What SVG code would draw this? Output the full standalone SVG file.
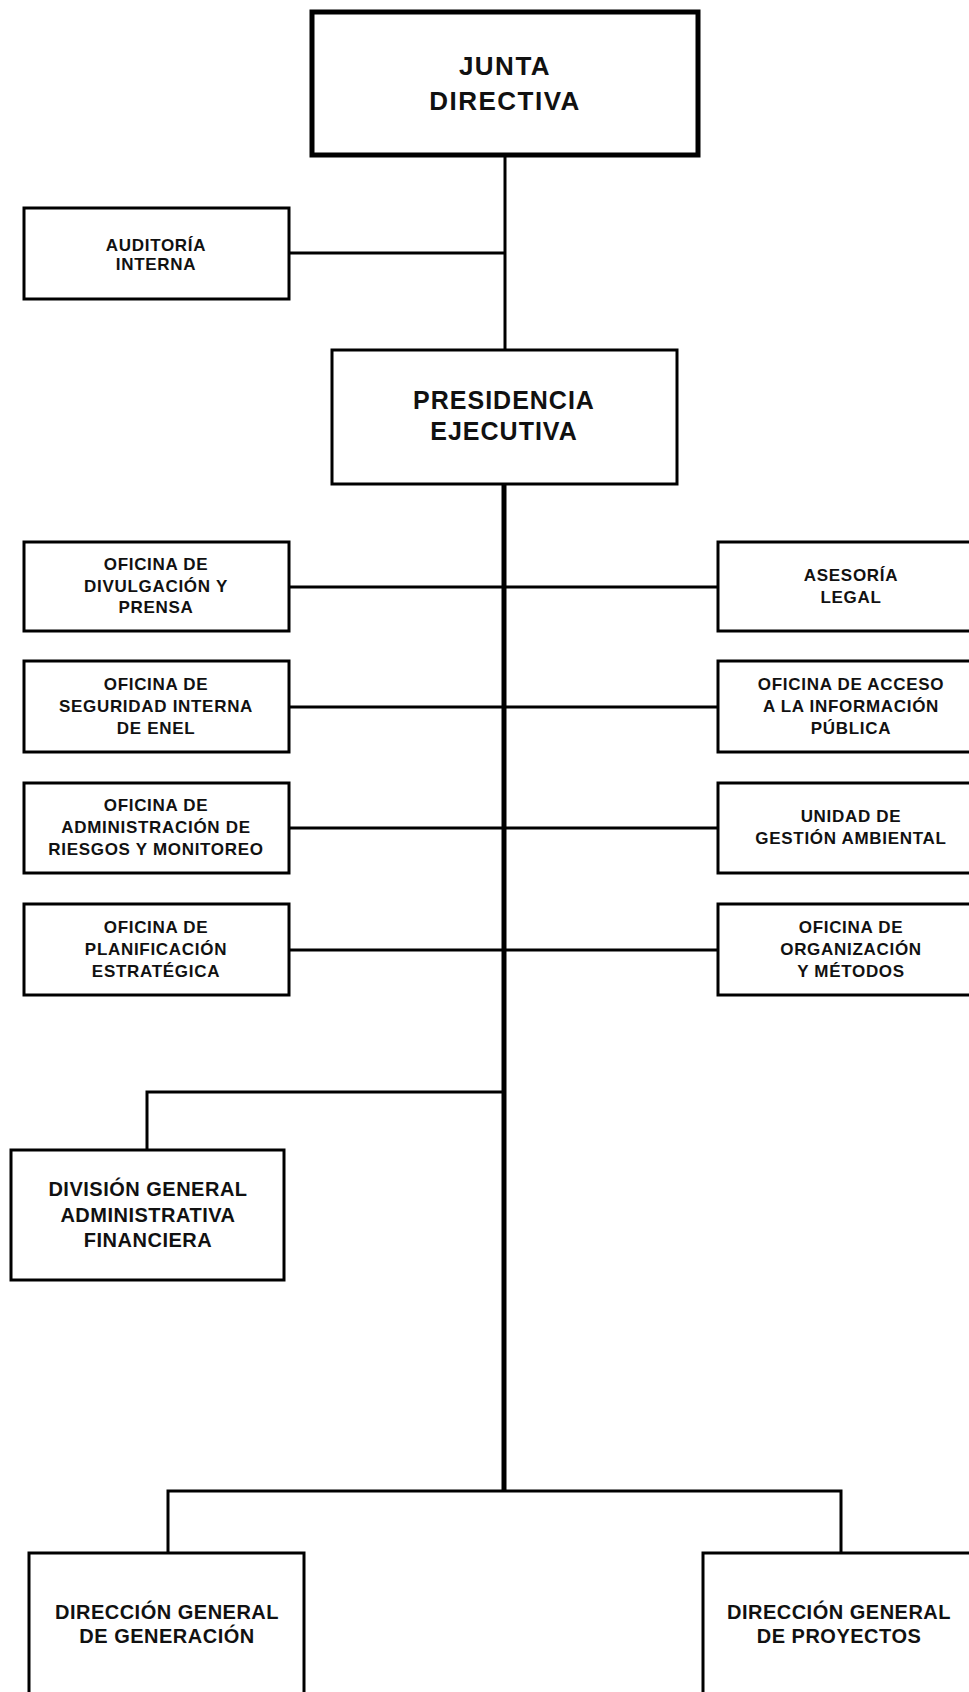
<svg xmlns="http://www.w3.org/2000/svg" width="969" height="1692" viewBox="0 0 969 1692">
<style>
.box{fill:#fff;stroke:#000;stroke-width:3}
.thick{fill:#fff;stroke:#000;stroke-width:5}
.ln{fill:none;stroke:#000;stroke-width:3}
.trunk{fill:none;stroke:#000;stroke-width:5}
text{font-family:"Liberation Sans",Arial,sans-serif;font-weight:bold;fill:#111;text-anchor:middle}
.t25{font-size:25px;letter-spacing:1.5px}
.t17{font-size:17px;letter-spacing:0.7px}
.t20{font-size:20px;letter-spacing:0.5px}
</style>
<rect width="969" height="1692" fill="#fff"/>
<g id="connectors">
<line class="ln" x1="505" y1="155" x2="505" y2="350"/>
<line class="ln" x1="289" y1="253" x2="505" y2="253"/>
<line class="trunk" x1="504" y1="484" x2="504" y2="1492"/>
<line class="ln" x1="289" y1="587" x2="718" y2="587"/>
<line class="ln" x1="289" y1="707" x2="718" y2="707"/>
<line class="ln" x1="289" y1="828" x2="718" y2="828"/>
<line class="ln" x1="289" y1="950" x2="718" y2="950"/>
<polyline class="ln" points="504,1092 147,1092 147,1150"/>
<polyline class="ln" points="168,1553 168,1491 841,1491 841,1553"/>
</g>
<g id="junta">
<rect class="thick" x="312" y="12" width="386" height="143"/>
<text class="t25" x="505" y="75" style="font-size:26px">JUNTA</text>
<text class="t25" x="505" y="110" style="font-size:26px">DIRECTIVA</text>
</g>
<g id="auditoria">
<rect class="box" x="24" y="208" width="265" height="91"/>
<text class="t17" x="156" y="251">AUDITORÍA</text>
<text class="t17" x="156" y="270">INTERNA</text>
</g>
<g id="presidencia">
<rect class="box" x="332" y="350" width="345" height="134"/>
<text class="t25" x="504" y="409" style="letter-spacing:1px">PRESIDENCIA</text>
<text class="t25" x="504" y="440" style="letter-spacing:1px">EJECUTIVA</text>
</g>
<g id="divulgacion">
<rect class="box" x="24" y="542" width="265" height="89"/>
<text class="t17" x="156" y="570">OFICINA DE</text>
<text class="t17" x="156" y="592">DIVULGACIÓN Y</text>
<text class="t17" x="156" y="613">PRENSA</text>
</g>
<g id="seguridad">
<rect class="box" x="24" y="661" width="265" height="91"/>
<text class="t17" x="156" y="690">OFICINA DE</text>
<text class="t17" x="156" y="712">SEGURIDAD INTERNA</text>
<text class="t17" x="156" y="734">DE ENEL</text>
</g>
<g id="riesgos">
<rect class="box" x="24" y="783" width="265" height="90"/>
<text class="t17" x="156" y="811">OFICINA DE</text>
<text class="t17" x="156" y="833">ADMINISTRACIÓN DE</text>
<text class="t17" x="156" y="855">RIESGOS Y MONITOREO</text>
</g>
<g id="planificacion">
<rect class="box" x="24" y="904" width="265" height="91"/>
<text class="t17" x="156" y="933">OFICINA DE</text>
<text class="t17" x="156" y="955">PLANIFICACIÓN</text>
<text class="t17" x="156" y="977">ESTRATÉGICA</text>
</g>
<g id="asesoria">
<rect class="box" x="718" y="542" width="265" height="89"/>
<text class="t17" x="851" y="581">ASESORÍA</text>
<text class="t17" x="851" y="603">LEGAL</text>
</g>
<g id="acceso">
<rect class="box" x="718" y="661" width="265" height="91"/>
<text class="t17" x="851" y="690">OFICINA DE ACCESO</text>
<text class="t17" x="851" y="712">A LA INFORMACIÓN</text>
<text class="t17" x="851" y="734">PÚBLICA</text>
</g>
<g id="ambiental">
<rect class="box" x="718" y="783" width="265" height="90"/>
<text class="t17" x="851" y="822">UNIDAD DE</text>
<text class="t17" x="851" y="844">GESTIÓN AMBIENTAL</text>
</g>
<g id="organizacion">
<rect class="box" x="718" y="904" width="265" height="91"/>
<text class="t17" x="851" y="933">OFICINA DE</text>
<text class="t17" x="851" y="955">ORGANIZACIÓN</text>
<text class="t17" x="851" y="977">Y MÉTODOS</text>
</g>
<g id="division">
<rect class="box" x="11" y="1150" width="273" height="130"/>
<text class="t20" x="148" y="1196">DIVISIÓN GENERAL</text>
<text class="t20" x="148" y="1222">ADMINISTRATIVA</text>
<text class="t20" x="148" y="1247">FINANCIERA</text>
</g>
<g id="generacion">
<rect class="box" x="29" y="1553" width="275" height="160"/>
<text class="t20" x="167" y="1619">DIRECCIÓN GENERAL</text>
<text class="t20" x="167" y="1643">DE GENERACIÓN</text>
</g>
<g id="proyectos">
<rect class="box" x="703" y="1553" width="275" height="160"/>
<text class="t20" x="839" y="1619">DIRECCIÓN GENERAL</text>
<text class="t20" x="839" y="1643">DE PROYECTOS</text>
</g>
</svg>
